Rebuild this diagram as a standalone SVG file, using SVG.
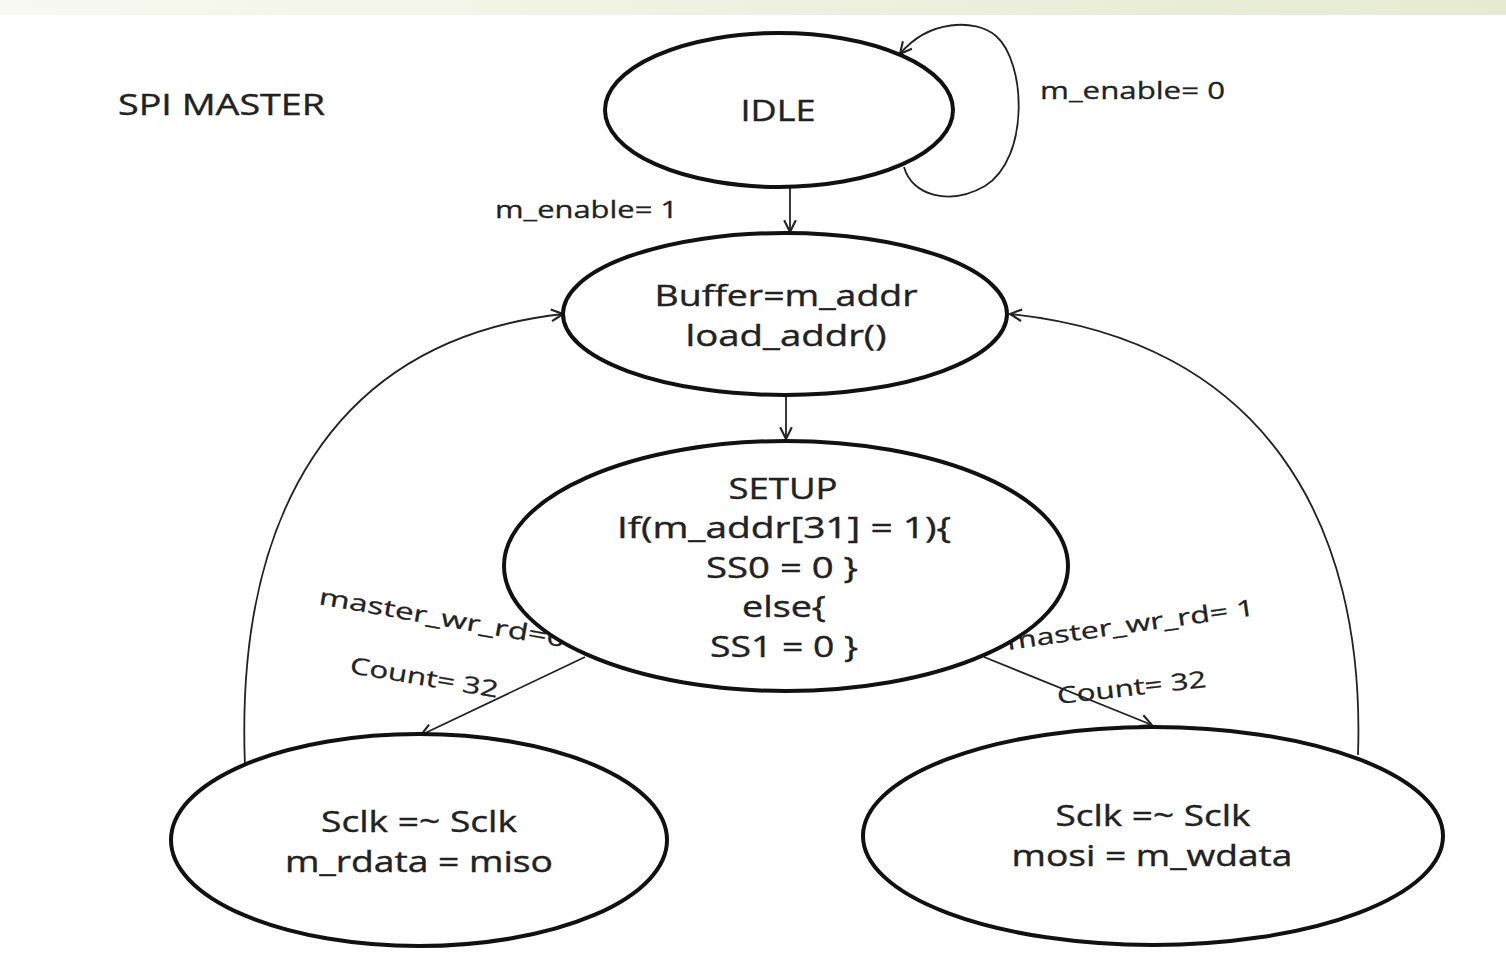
<svg xmlns="http://www.w3.org/2000/svg" width="1506" height="953" viewBox="0 0 1506 953">
<style>
.node{fill:#fff;stroke:#111;stroke-width:4}
.t{font-family:"Open Sans","Liberation Sans",sans-serif;font-size:30px;fill:#222;stroke:#222;stroke-width:0.4;text-anchor:middle}
.s{font-family:"Open Sans","Liberation Sans",sans-serif;font-size:23px;fill:#222;stroke:#222;stroke-width:0.3}
.c{fill:none;stroke:#222;stroke-width:1.8}
</style>
<defs>
<linearGradient id="bar" x1="0" y1="0" x2="1" y2="0">
<stop offset="0" stop-color="#f8f9f1"/>
<stop offset="1" stop-color="#e5ead0"/>
</linearGradient>
<marker id="arr" viewBox="0 0 12 12" refX="11" refY="6" markerWidth="14" markerHeight="14" markerUnits="userSpaceOnUse" orient="auto">
<path d="M1,1 L11,6 L1,11" fill="none" stroke="#222" stroke-width="1.8"/>
</marker>
</defs>
<rect x="0" y="0" width="1506" height="953" fill="#fff"/>
<rect x="0" y="0" width="1506" height="15" fill="url(#bar)"/>
<text class="t" x="118" y="115" style="text-anchor:start" textLength="207" lengthAdjust="spacingAndGlyphs">SPI MASTER</text>

<g id="connectors">
<path class="c" d="M790,188 L790,232" marker-end="url(#arr)"/>
<path class="c" d="M786,396 L786,439" marker-end="url(#arr)"/>
<path class="c" d="M904,167 C912,196 950,206 985,186 C1030,158 1026,62 996,36 C975,18 928,20 900,54" marker-end="url(#arr)"/>
<path class="c" d="M245,766 C235,520 330,340 563,314" marker-end="url(#arr)"/>
<path class="c" d="M1358,755 C1366,520 1262,340 1010,314" marker-end="url(#arr)"/>
<path class="c" d="M585,657 L421,735" marker-end="url(#arr)"/>
<path class="c" d="M984,657 L1152,725" marker-end="url(#arr)"/>
<text class="s" x="1040" y="99" textLength="185" lengthAdjust="spacingAndGlyphs">m_enable= 0</text>
<text class="s" x="495" y="218" textLength="183" lengthAdjust="spacingAndGlyphs">m_enable= 1</text>
<text class="s" transform="translate(318,604) rotate(10)" textLength="250" lengthAdjust="spacingAndGlyphs">master_wr_rd=0</text>
<text class="s" transform="translate(349,673) rotate(9.5)" textLength="150" lengthAdjust="spacingAndGlyphs">Count= 32</text>
<text class="s" transform="translate(1008,650) rotate(-8)" textLength="250" lengthAdjust="spacingAndGlyphs">master_wr_rd= 1</text>
<text class="s" transform="translate(1058,704) rotate(-6.5)" textLength="150" lengthAdjust="spacingAndGlyphs">Count= 32</text>
</g>

<g id="idle">
<ellipse class="node" cx="779" cy="110" rx="174" ry="77"/>
<text class="t" x="778" y="121" textLength="75" lengthAdjust="spacingAndGlyphs">IDLE</text>
</g>
<g id="buffer">
<ellipse class="node" cx="785" cy="314" rx="222" ry="81"/>
<text class="t" x="786" y="306" textLength="263" lengthAdjust="spacingAndGlyphs">Buffer=m_addr</text>
<text class="t" x="786" y="346" textLength="201" lengthAdjust="spacingAndGlyphs">load_addr()</text>
</g>
<g id="setup">
<ellipse class="node" cx="786" cy="566" rx="282" ry="125"/>
<text class="t" x="783" y="499" textLength="109" lengthAdjust="spacingAndGlyphs">SETUP</text>
<text class="t" x="784" y="538" textLength="334" lengthAdjust="spacingAndGlyphs">If(m_addr[31] = 1){</text>
<text class="t" x="782" y="578" textLength="152" lengthAdjust="spacingAndGlyphs">SS0 = 0 }</text>
<text class="t" x="784" y="617" textLength="84" lengthAdjust="spacingAndGlyphs">else{</text>
<text class="t" x="784" y="657" textLength="148" lengthAdjust="spacingAndGlyphs">SS1 = 0 }</text>
</g>
<g id="read">
<ellipse class="node" cx="419" cy="840" rx="248" ry="106"/>
<text class="t" x="419" y="832" textLength="196" lengthAdjust="spacingAndGlyphs">Sclk =~ Sclk</text>
<text class="t" x="419" y="872" textLength="268" lengthAdjust="spacingAndGlyphs">m_rdata = miso</text>
</g>
<g id="write">
<ellipse class="node" cx="1153" cy="836" rx="290" ry="109"/>
<text class="t" x="1153" y="826" textLength="195" lengthAdjust="spacingAndGlyphs">Sclk =~ Sclk</text>
<text class="t" x="1152" y="866" textLength="281" lengthAdjust="spacingAndGlyphs">mosi = m_wdata</text>
</g>
</svg>
